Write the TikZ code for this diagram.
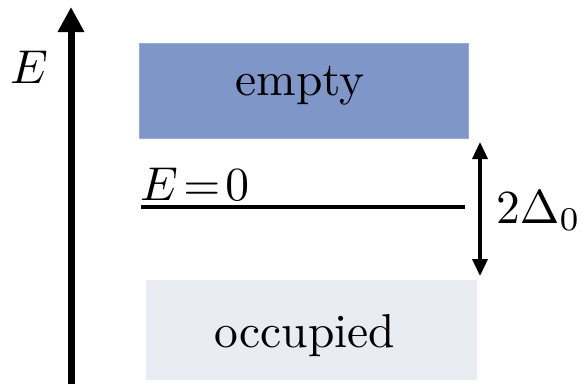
\documentclass[tikz,border=0pt]{standalone}
\usepackage{graphicx}
\usetikzlibrary{arrows.meta}
\definecolor{emptyblue}{RGB}{127,151,200}
\definecolor{emptyedge}{RGB}{150,172,218}
\definecolor{occgray}{RGB}{233,236,242}
\newcommand{\bigtxt}[1]{\scalebox{4.75}{#1}}
\tikzset{
  bandtext/.style={inner sep=0pt, anchor=base},
  thickarrow/.style={line width=7pt, -{Triangle[width=25pt,length=25pt]}},
  gaparrow/.style={line width=3.5pt, {Triangle[width=15pt,length=17pt]}-{Triangle[width=15pt,length=17pt]}},
}
\begin{document}
\begin{tikzpicture}[x=1pt,y=-1pt]
\useasboundingbox (0,0) rectangle (584,384);
% bands
\fill[emptyblue] (139,43) rectangle (469,139);
\draw[emptyedge, line width=1pt] (139.5,43.5) rectangle (468.5,138.5);
\node[bandtext] (emptylbl) at (300,95) {\bigtxt{empty}};
\fill[occgray] (146,280) rectangle (477,380);
\node[bandtext] (occlbl) at (305,347) {\bigtxt{occupied}};
% axis
\coordinate (axbot) at (71,384);
\coordinate (axtop) at (71,7);
\draw[thickarrow] (axbot) -- (axtop);
\node[bandtext] (elbl) at (29,83) {\bigtxt{$E$}};
% Fermi level
\coordinate (fl) at (141,207);
\coordinate (fr) at (465,207);
\draw[line width=4pt] (fl) -- (fr);
\node[bandtext, anchor=base west] (e0) at (140,200) {\bigtxt{$E\mskip2mu{=}\mskip2mu0$}};
% gap arrow
\coordinate (gt) at (480,142);
\coordinate (gb) at (480,276);
\draw[gaparrow] (gb) -- (gt);
\node[bandtext, anchor=base west] (gaplbl) at (496,223) {\bigtxt{$2\Delta_0$}};
\end{tikzpicture}
\end{document}
